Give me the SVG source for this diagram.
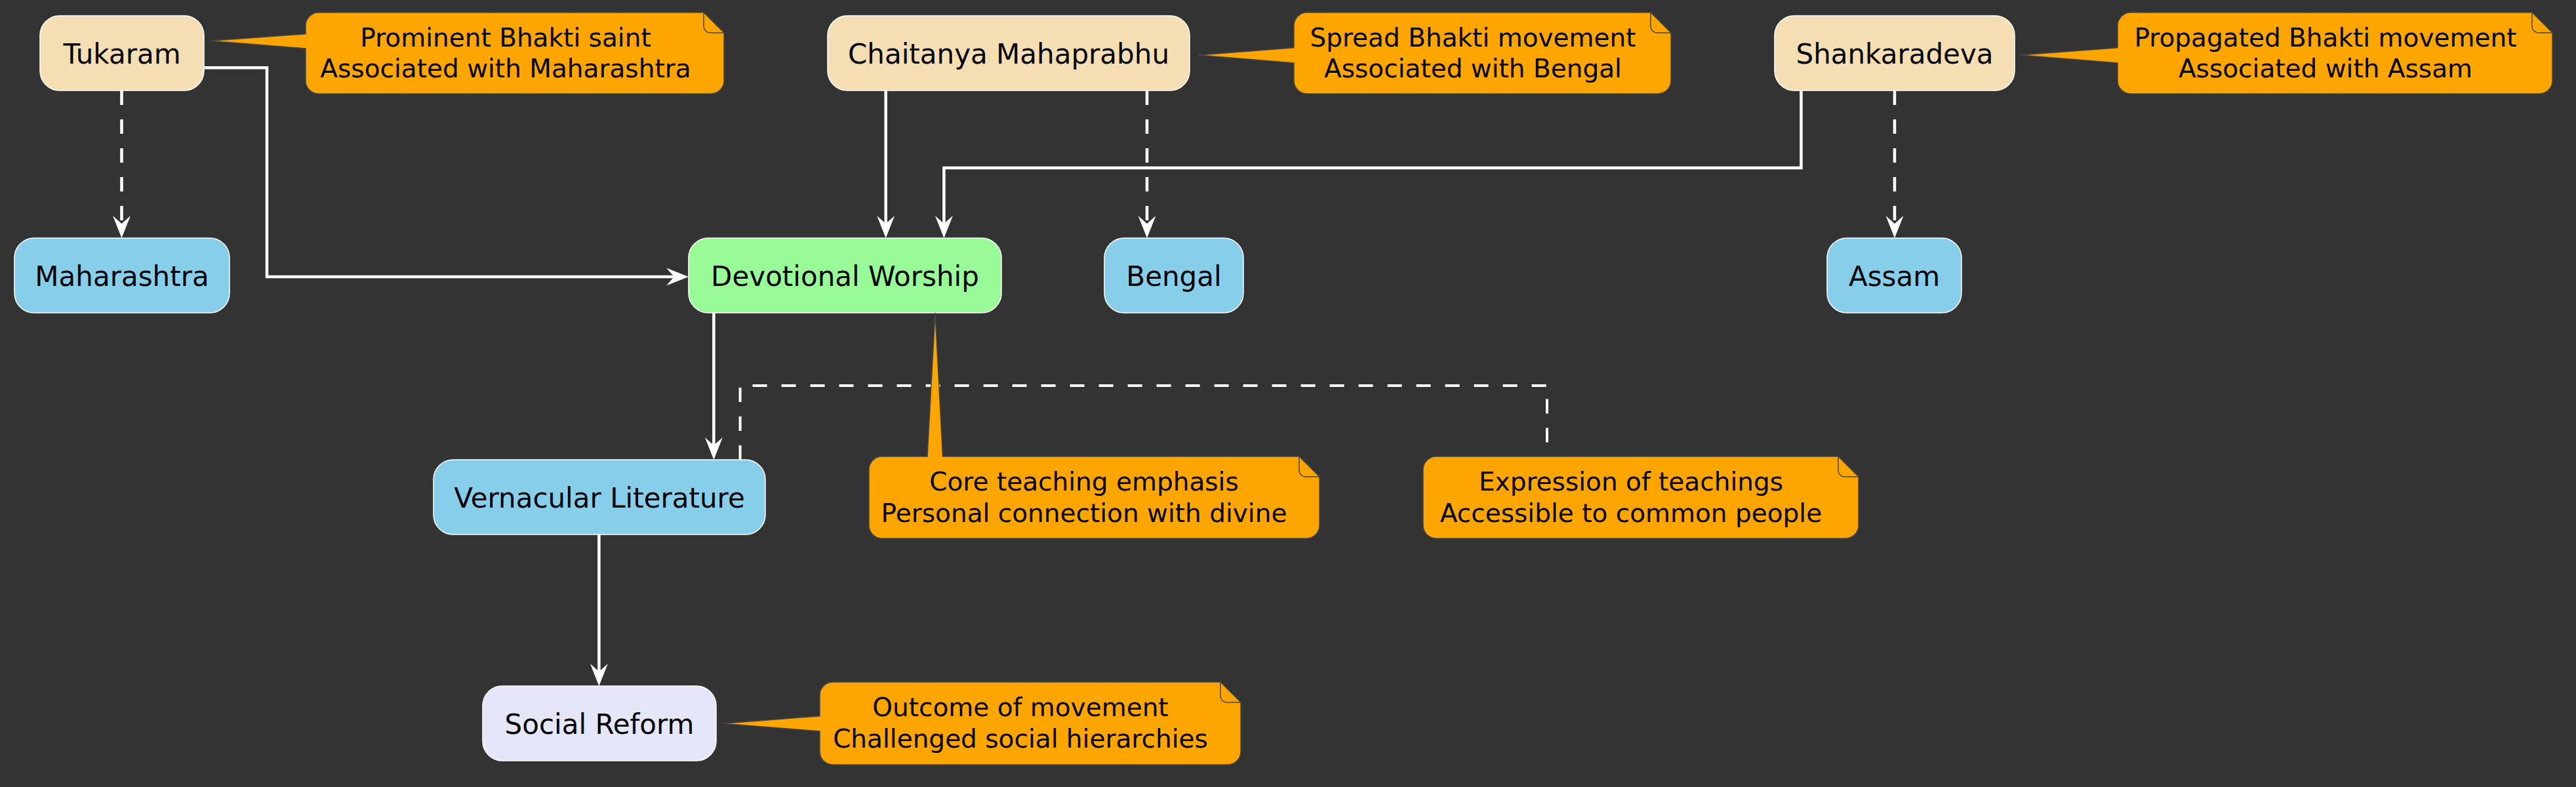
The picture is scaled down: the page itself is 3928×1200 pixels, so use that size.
<svg xmlns="http://www.w3.org/2000/svg" width="3928" height="1200" viewBox="0 0 3928 1200">
<style>
.bg{fill:#333333}
.node{stroke:#FFFFFF;stroke-width:1.5}
.saint{fill:#F5DEB3}
.region{fill:#87CEEB}
.core{fill:#98FB98}
.reform{fill:#E6E6FA}
.lbl{font-family:"DejaVu Sans","Liberation Sans",sans-serif;font-size:42px;fill:#000000;text-anchor:middle}
.note{fill:#FFA500;stroke:#474747;stroke-width:1.5}
.ntxt{font-family:"DejaVu Sans","Liberation Sans",sans-serif;font-size:39px;fill:#000000;text-anchor:middle}
.edge{fill:none;stroke:#FFFFFF;stroke-width:4.5}
.dash{stroke-dasharray:22 22}
.nlink{fill:none;stroke:#FFFFFF;stroke-width:4;stroke-dasharray:22 22}
</style>
<defs>
<marker id="arr" viewBox="-26 -15 38 30" refX="0" refY="0" markerWidth="38" markerHeight="30" markerUnits="userSpaceOnUse" orient="auto">
<path d="M10,0 L-24,-13.5 L-12,0 L-24,13.5 Z" fill="#FFFFFF"/>
</marker>
</defs>
<rect class="bg" x="0" y="0" width="3928" height="1200"/>

<g id="connectors">
<path class="edge dash" d="M185.5,138 V353" marker-end="url(#arr)"/>
<path class="edge" d="M312,103.3 H407 V422 H1040" marker-end="url(#arr)"/>
<path class="edge" d="M1350.7,138 V353" marker-end="url(#arr)"/>
<path class="edge dash" d="M1749,138 V353" marker-end="url(#arr)"/>
<path class="edge" d="M2746.5,138 V256 H1439.4 V353" marker-end="url(#arr)"/>
<path class="edge dash" d="M2889,138 V353" marker-end="url(#arr)"/>
<path class="edge" d="M1088.4,477 V691" marker-end="url(#arr)"/>
<path class="edge" d="M913.4,815 V1036" marker-end="url(#arr)"/>
<path class="nlink" d="M1128.6,701 V588 H2359 V696"/>
</g>

<g id="tukaram">
<rect class="node saint" x="61" y="24" width="250" height="114" rx="30" ry="30"/>
<text class="lbl" x="186" y="96.5">Tukaram</text>
</g>
<g id="chaitanya">
<rect class="node saint" x="1262" y="24" width="552" height="114" rx="30" ry="30"/>
<text class="lbl" x="1538" y="96.5">Chaitanya Mahaprabhu</text>
</g>
<g id="shankaradeva">
<rect class="node saint" x="2706" y="24" width="366" height="114" rx="30" ry="30"/>
<text class="lbl" x="2889" y="96.5">Shankaradeva</text>
</g>
<g id="maharashtra">
<rect class="node region" x="22" y="363" width="328" height="114" rx="30" ry="30"/>
<text class="lbl" x="186" y="435.5">Maharashtra</text>
</g>
<g id="devotional">
<rect class="node core" x="1050" y="363" width="477" height="114" rx="30" ry="30"/>
<text class="lbl" x="1288.5" y="435.5">Devotional Worship</text>
</g>
<g id="bengal">
<rect class="node region" x="1684" y="363" width="212" height="114" rx="30" ry="30"/>
<text class="lbl" x="1790" y="435.5">Bengal</text>
</g>
<g id="assam">
<rect class="node region" x="2786" y="363" width="205" height="114" rx="30" ry="30"/>
<text class="lbl" x="2888.5" y="435.5">Assam</text>
</g>
<g id="vernacular">
<rect class="node region" x="661" y="701" width="506" height="114" rx="30" ry="30"/>
<text class="lbl" x="914" y="773.5">Vernacular Literature</text>
</g>
<g id="socialreform">
<rect class="node reform" x="736" y="1046" width="356" height="114" rx="30" ry="30"/>
<text class="lbl" x="914" y="1118.5">Social Reform</text>
</g>

<g id="note-tukaram">
<path class="note" d="M486,19 H1073 L1104,50 V123 A20,20 0 0 1 1084,143 H486 A20,20 0 0 1 466,123 V74 L321,62.3 L466,51.7 V39 A20,20 0 0 1 486,19 Z"/>
<path class="note" d="M1073,19 V40 A10,10 0 0 0 1083,50 H1104 Z"/>
<text class="ntxt" x="771" y="71">Prominent Bhakti saint</text>
<text class="ntxt" x="771" y="118">Associated with Maharashtra</text>
</g>
<g id="note-chaitanya">
<path class="note" d="M1993,19 H2517 L2548,50 V123 A20,20 0 0 1 2528,143 H1993 A20,20 0 0 1 1973,123 V96 L1828,84 L1973,72.7 V39 A20,20 0 0 1 1993,19 Z"/>
<path class="note" d="M2517,19 V40 A10,10 0 0 0 2527,50 H2548 Z"/>
<text class="ntxt" x="2246" y="71">Spread Bhakti movement</text>
<text class="ntxt" x="2246" y="118">Associated with Bengal</text>
</g>
<g id="note-shankaradeva">
<path class="note" d="M3249,19 H3861 L3892,50 V123 A20,20 0 0 1 3872,143 H3249 A20,20 0 0 1 3229,123 V96 L3081,84 L3229,72.7 V39 A20,20 0 0 1 3249,19 Z"/>
<path class="note" d="M3861,19 V40 A10,10 0 0 0 3871,50 H3892 Z"/>
<text class="ntxt" x="3546" y="71">Propagated Bhakti movement</text>
<text class="ntxt" x="3546" y="118">Associated with Assam</text>
</g>
<g id="note-core">
<path class="note" d="M1345,696 H1414 L1426,477 L1437.5,696 H1981 L2012,727 V801 A20,20 0 0 1 1992,821 H1345 A20,20 0 0 1 1325,801 V716 A20,20 0 0 1 1345,696 Z"/>
<path class="note" d="M1981,696 V717 A10,10 0 0 0 1991,727 H2012 Z"/>
<text class="ntxt" x="1653" y="748">Core teaching emphasis</text>
<text class="ntxt" x="1653" y="796">Personal connection with divine</text>
</g>
<g id="note-expression">
<path class="note" d="M2190,696 H2803 L2834,727 V801 A20,20 0 0 1 2814,821 H2190 A20,20 0 0 1 2170,801 V716 A20,20 0 0 1 2190,696 Z"/>
<path class="note" d="M2803,696 V717 A10,10 0 0 0 2813,727 H2834 Z"/>
<text class="ntxt" x="2487" y="748">Expression of teachings</text>
<text class="ntxt" x="2487" y="796">Accessible to common people</text>
</g>
<g id="note-outcome">
<path class="note" d="M1270,1040 H1861 L1892,1071 V1146 A20,20 0 0 1 1872,1166 H1270 A20,20 0 0 1 1250,1146 V1115 L1102.7,1103.3 L1250,1091.7 V1060 A20,20 0 0 1 1270,1040 Z"/>
<path class="note" d="M1861,1040 V1061 A10,10 0 0 0 1871,1071 H1892 Z"/>
<text class="ntxt" x="1556" y="1092">Outcome of movement</text>
<text class="ntxt" x="1556" y="1140">Challenged social hierarchies</text>
</g>
</svg>
